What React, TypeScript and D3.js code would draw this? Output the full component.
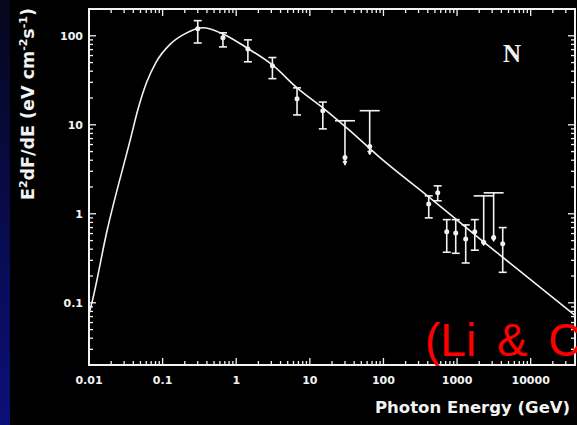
import React, { useEffect, useRef } from 'react';
import * as d3 from 'd3';

// model curve
const curveE = [0.01, 0.0111, 0.0174, 0.0375, 0.0453, 0.0607, 0.081, 0.126, 0.2, 0.35, 0.66, 1.44, 3.1, 6.7, 15, 35, 89, 420, 2000, 40000];
const curveF = [0.075, 0.105, 0.62, 7.5, 14, 30, 50, 80, 105, 123, 105, 72, 47, 26, 15.5, 8.6, 4.3, 1.53, 0.53, 0.072];

// data points with error bars
const ptE = [0.3, 0.66, 1.44, 3.1, 6.7, 15, 30, 65, 412, 546, 724, 959, 1310, 1740, 2300, 3140, 4170];
const ptF = [120, 95, 71, 46, 19.6, 14.4, 4.3, 5.7, 1.29, 1.72, 0.63, 0.61, 0.52, 0.63, 0.48, 0.54, 0.46];
const ptHi = [148, 108, 90, 57, 26, 18, 11.1, 14.4, 1.59, 2.06, 0.86, 0.86, 0.75, 0.86, 1.59, 1.72, 0.7];
const ptLo = [83, 75, 51, 33, 12.9, 9.0, 3.6, 4.7, 0.9, 1.4, 0.37, 0.36, 0.28, 0.39, 0.45, 0.5, 0.22];
const ptLimit = [false, false, false, false, false, false, true, true, false, false, false, false, false, false, true, true, false];

const xTickLabels = ['0.01', '0.1', '1', '10', '100', '1000', '10000'];
const yTickLabels = ['0.1', '1', '10', '100'];

const FG = '#f2f2f2';
const FONT = '"DejaVu Sans", Arial, sans-serif';

export default function App() {
  const ref = useRef<SVGSVGElement>(null);

  useEffect(() => {
    const svg = d3.select(ref.current);
    svg.selectAll('*').remove();

    const left = 89, right = 575, top = 9, bottom = 365;
    const x = d3.scaleLog().domain([0.01, 4e4]).range([left, right]);
    const y = d3.scaleLog().domain([0.02, 200]).range([bottom, top]);

    const defs = svg.append('defs');
    const grad = defs.append('linearGradient')
      .attr('id', 'strip').attr('x1', 0).attr('y1', 0).attr('x2', 0).attr('y2', 1);
    grad.append('stop').attr('offset', '0%').attr('stop-color', '#06061c');
    grad.append('stop').attr('offset', '100%').attr('stop-color', '#0b0f78');

    svg.append('rect').attr('width', 577).attr('height', 425).attr('fill', '#000');
    svg.append('rect').attr('width', 10).attr('height', 425).attr('fill', 'url(#strip)');

    const isMajor = (v: number) => Math.abs(Math.log10(v) - Math.round(Math.log10(v))) < 1e-6;

    // ticks, all pointing inward
    const g = svg.append('g').attr('stroke', FG).attr('stroke-width', 1.3);
    x.ticks().forEach((v) => {
      const px = x(v);
      if (px <= left + 0.5 || px >= right - 0.5) return;
      const len = isMajor(v) ? 7 : 4;
      g.append('line').attr('x1', px).attr('x2', px).attr('y1', bottom).attr('y2', bottom - len);
      g.append('line').attr('x1', px).attr('x2', px).attr('y1', top).attr('y2', top + len);
    });
    y.ticks().forEach((v) => {
      const py = y(v);
      if (py >= bottom - 0.5 || py <= top + 0.5) return;
      const len = isMajor(v) ? 7 : 4;
      g.append('line').attr('x1', left).attr('x2', left + len).attr('y1', py).attr('y2', py);
      g.append('line').attr('x1', right).attr('x2', right - len).attr('y1', py).attr('y2', py);
    });

    svg.append('rect')
      .attr('x', left).attr('y', top)
      .attr('width', right - left).attr('height', bottom - top)
      .attr('fill', 'none').attr('stroke', FG).attr('stroke-width', 2);

    // tick labels
    svg.selectAll('.xlab')
      .data(xTickLabels)
      .join('text')
      .attr('class', 'xlab')
      .attr('x', (d) => x(+d))
      .attr('y', 384)
      .attr('text-anchor', 'middle')
      .attr('font-family', FONT).attr('font-weight', 'bold').attr('font-size', 11)
      .attr('fill', FG)
      .text((d) => d);

    svg.selectAll('.ylab')
      .data(yTickLabels)
      .join('text')
      .attr('class', 'ylab')
      .attr('x', 83)
      .attr('y', (d) => y(+d) + 4)
      .attr('text-anchor', 'end')
      .attr('font-family', FONT).attr('font-weight', 'bold').attr('font-size', 11)
      .attr('fill', FG)
      .text((d) => d);

    // model curve
    const line = d3.line<number>()
      .x((d, i) => x(curveE[i]))
      .y((d) => y(d))
      .curve(d3.curveMonotoneX);
    svg.append('path')
      .attr('d', line(curveF))
      .attr('fill', 'none')
      .attr('stroke', FG)
      .attr('stroke-width', 1.6);

    // error bars + points
    const pts = svg.append('g').attr('stroke', FG).attr('stroke-width', 1.6);
    ptE.forEach((e, i) => {
      const px = x(e);
      const capHi = ptLimit[i] ? 10 : 4;
      pts.append('line').attr('x1', px).attr('x2', px).attr('y1', y(ptHi[i])).attr('y2', y(ptLo[i]));
      pts.append('line').attr('x1', px - capHi).attr('x2', px + capHi).attr('y1', y(ptHi[i])).attr('y2', y(ptHi[i]));
      if (!ptLimit[i]) {
        pts.append('line').attr('x1', px - 4).attr('x2', px + 4).attr('y1', y(ptLo[i])).attr('y2', y(ptLo[i]));
      } else {
        const yb = y(ptLo[i]);
        pts.append('path')
          .attr('d', `M${px - 2},${yb - 3}L${px + 2},${yb - 3}L${px},${yb + 1}Z`)
          .attr('fill', FG).attr('stroke-width', 0.8);
      }
      pts.append('circle').attr('cx', px).attr('cy', y(ptF[i])).attr('r', 2.5).attr('fill', FG).attr('stroke', 'none');
    });

    // panel letter
    svg.append('text')
      .attr('x', 503).attr('y', 62)
      .attr('font-family', '"Liberation Serif", "Times New Roman", serif')
      .attr('font-weight', 'bold').attr('font-size', 25)
      .attr('fill', FG)
      .text('N');

    // axis titles
    svg.append('text')
      .attr('x', 375).attr('y', 413)
      .attr('font-family', FONT).attr('font-weight', 'bold').attr('font-size', 16.5)
      .attr('fill', FG)
      .text('Photon Energy (GeV)');

    const yt = svg.append('text')
      .attr('transform', 'translate(34,104) rotate(-90)')
      .attr('text-anchor', 'middle')
      .attr('font-family', FONT).attr('font-weight', 'bold').attr('font-size', 17.5)
      .attr('fill', FG);
    yt.append('tspan').text('E');
    yt.append('tspan').attr('font-size', 11).attr('dy', -7).text('2');
    yt.append('tspan').attr('dy', 7).text('dF/dE (eV cm');
    yt.append('tspan').attr('font-size', 11).attr('dy', -7).text('-2');
    yt.append('tspan').attr('dy', 7).text('s');
    yt.append('tspan').attr('font-size', 11).attr('dy', -7).text('-1');
    yt.append('tspan').attr('dy', 7).text(')');

    // citation overlay, cut by the right edge as in the source slide
    svg.append('text')
      .attr('x', 425).attr('y', 356)
      .attr('font-family', '"Liberation Sans", Arial, sans-serif')
      .attr('font-size', 46)
      .attr('word-spacing', 8)
      .attr('fill', '#ff0000')
      .text('(Li & C');
  }, []);

  return (
    <svg ref={ref} width={577} height={425} style={{ position: 'absolute', left: 0, top: 0 }} />
  );
}
